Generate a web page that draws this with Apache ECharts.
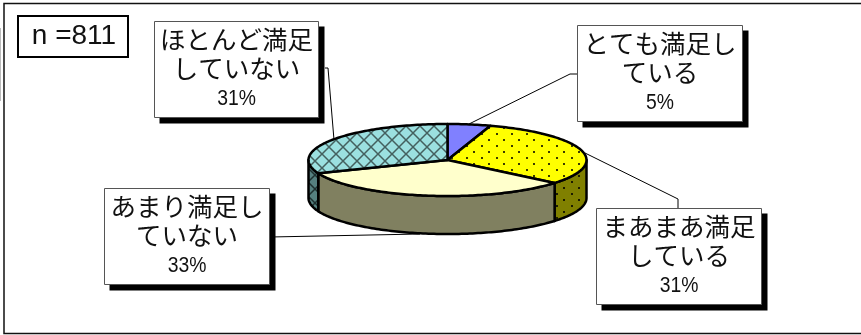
<!DOCTYPE html>
<html>
<head>
<meta charset="utf-8">
<script src="https://cdn.jsdelivr.net/npm/echarts@6/dist/echarts.min.js"></script>
<style>
  html, body { margin: 0; padding: 0; background: #fff; }
  #chart { width: 861px; height: 335px; }
</style>
</head>
<body>
<div id="chart"></div>
<script>
const categories = ["とても満足している", "まあまあ満足している", "あまり満足していない", "ほとんど満足していない"];
const labelLines = [["とても満足し", "ている"], ["まあまあ満足", "している"], ["あまり満足し", "ていない"], ["ほとんど満足", "していない"]];
const values = [5, 31, 33, 31];
const sampleText = "n =811";

const CJK = '"Noto Sans CJK JP", sans-serif';
const LATIN = '"Liberation Sans", Arial, sans-serif';

// pie shape, 3d look is just an ellipse plus a wall
const cx = 447.5, cy = 160, rx = 139, ry = 36, depth = 38;

// small tiles for the excel style fill patterns
function dotTile(bg, dot) {
  const c = document.createElement("canvas");
  c.width = 15; c.height = 12;
  const g = c.getContext("2d");
  g.fillStyle = bg;
  g.fillRect(0, 0, 15, 12);
  g.fillStyle = dot;
  g.fillRect(1, 1, 2, 2);
  g.fillRect(8, 7, 2, 2);
  return { image: c, repeat: "repeat" };
}
function crossTile(bg, line) {
  const c = document.createElement("canvas");
  c.width = 14; c.height = 14;
  const g = c.getContext("2d");
  g.fillStyle = bg;
  g.fillRect(0, 0, 14, 14);
  g.strokeStyle = line;
  g.lineWidth = 1.5;
  g.beginPath();
  g.moveTo(-1, -1); g.lineTo(15, 15);
  g.moveTo(15, -1); g.lineTo(-1, 15);
  g.stroke();
  return { image: c, repeat: "repeat" };
}

const topFills = ["#8080ff", dotTile("#ffff00", "#3a3a00"), "#ffffcc", crossTile("#9be0e0", "#44605f")];
const sideFills = ["#4040a0", dotTile("#808000", "#1c1c00"), "#808060", crossTile("#558080", "#1e3030")];

const total = values.reduce((a, b) => a + b, 0);
const toAngle = (v) => echarts.number.linearMap(v, [0, total], [0, Math.PI * 2]);
const ellipsePt = (a, dy) => [cx + rx * Math.sin(a), cy - ry * Math.cos(a) + (dy || 0)];

function arcPoints(a0, a1, dy) {
  const n = Math.max(2, Math.ceil((a1 - a0) / 0.02));
  const pts = [];
  for (let i = 0; i <= n; i++) pts.push(ellipsePt(a0 + ((a1 - a0) * i) / n, dy));
  return pts;
}

function renderSlice(params, api) {
  const i = params.dataIndex;
  let sum = 0;
  for (let k = 0; k < i; k++) sum += values[k];
  const a0 = toAngle(sum);
  const a1 = toAngle(sum + api.value(1));
  const children = [];
  // wall only shows between 3 o'clock and 9 o'clock
  const w0 = Math.max(a0, Math.PI / 2);
  const w1 = Math.min(a1, Math.PI * 1.5);
  if (w1 > w0) {
    children.push({
      type: "polygon",
      shape: { points: arcPoints(w0, w1, 0).concat(arcPoints(w0, w1, depth).reverse()) },
      style: { fill: sideFills[i], stroke: "#000", lineWidth: 2.5, lineJoin: "round" },
    });
  }
  children.push({
    type: "polygon",
    shape: { points: [[cx, cy]].concat(arcPoints(a0, a1, 0)) },
    style: { fill: topFills[i], stroke: "#000", lineWidth: 2.5, lineJoin: "round" },
  });
  return { type: "group", children };
}

// text boxes with drop shadow
function calloutBox(x, y, w, h, i) {
  const pct = Math.round((values[i] / total) * 100) + "%";
  return [
    { type: "rect", shape: { x: x + 5, y: y + 5, width: w + 1, height: h + 1 }, style: { fill: "#000" }, z: 10 },
    { type: "rect", shape: { x, y, width: w, height: h }, style: { fill: "#fff", stroke: "#555", lineWidth: 1 }, z: 11 },
    {
      type: "text", x: x + w / 2, y: y + 5, z: 12,
      style: { text: labelLines[i][0], fill: "#111", font: "25.5px " + CJK, align: "center", verticalAlign: "top" },
    },
    {
      type: "text", x: x + w / 2, y: y + 34, z: 12,
      style: { text: labelLines[i][1], fill: "#111", font: "25.5px " + CJK, align: "center", verticalAlign: "top" },
    },
    {
      type: "text", x: x + w / 2, y: y + 66, scaleX: 0.88, z: 12,
      style: { text: pct, fill: "#111", font: "22px " + LATIN, align: "center", verticalAlign: "top" },
    },
  ];
}

function leader(points) {
  return { type: "polyline", shape: { points }, style: { stroke: "#000", lineWidth: 1, fill: null }, z: 1 };
}

const chart = echarts.init(document.getElementById("chart"), null, { renderer: "canvas" });

chart.setOption({
  animation: false,
  backgroundColor: "#fff",
  graphic: {
    elements: [
      // frame runs off the right edge, no right border in the original
      { type: "polyline", shape: { points: [[870, 3.5], [4, 3.5], [4, 333.5], [870, 333.5]] }, style: { fill: null, stroke: "#111", lineWidth: 1.5 }, z: 0 },
      { type: "line", shape: { x1: 0.5, y1: 28, x2: 0.5, y2: 101 }, style: { stroke: "#bbb", lineWidth: 1 }, z: 0 },
      leader([[469, 124], [570, 74], [577, 74]]),
      leader([[585, 153], [678, 199], [678, 208]]),
      leader([[325, 68], [328, 68], [334, 140]]),
      leader([[270, 237], [420, 234]]),
      { type: "rect", shape: { x: 18, y: 16, width: 110, height: 41 }, style: { fill: "#fff", stroke: "#000", lineWidth: 2 }, z: 11 },
      {
        type: "text", x: 74, y: 36, z: 12,
        style: { text: sampleText, fill: "#111", font: "28px " + LATIN, align: "center", verticalAlign: "middle" },
      },
      ...calloutBox(577.5, 25.5, 165, 96, 0),
      ...calloutBox(596.5, 208.5, 165, 96, 1),
      ...calloutBox(104.5, 188.5, 165, 96, 2),
      ...calloutBox(154.5, 21.5, 164, 96, 3),
    ],
  },
  series: [
    {
      type: "custom",
      coordinateSystem: "none",
      silent: true,
      z: 5,
      data: categories.map((name, i) => [i, values[i], name]),
      renderItem: renderSlice,
    },
  ],
});

window.addEventListener("resize", () => {
  chart.resize();
});
</script>
</body>
</html>
